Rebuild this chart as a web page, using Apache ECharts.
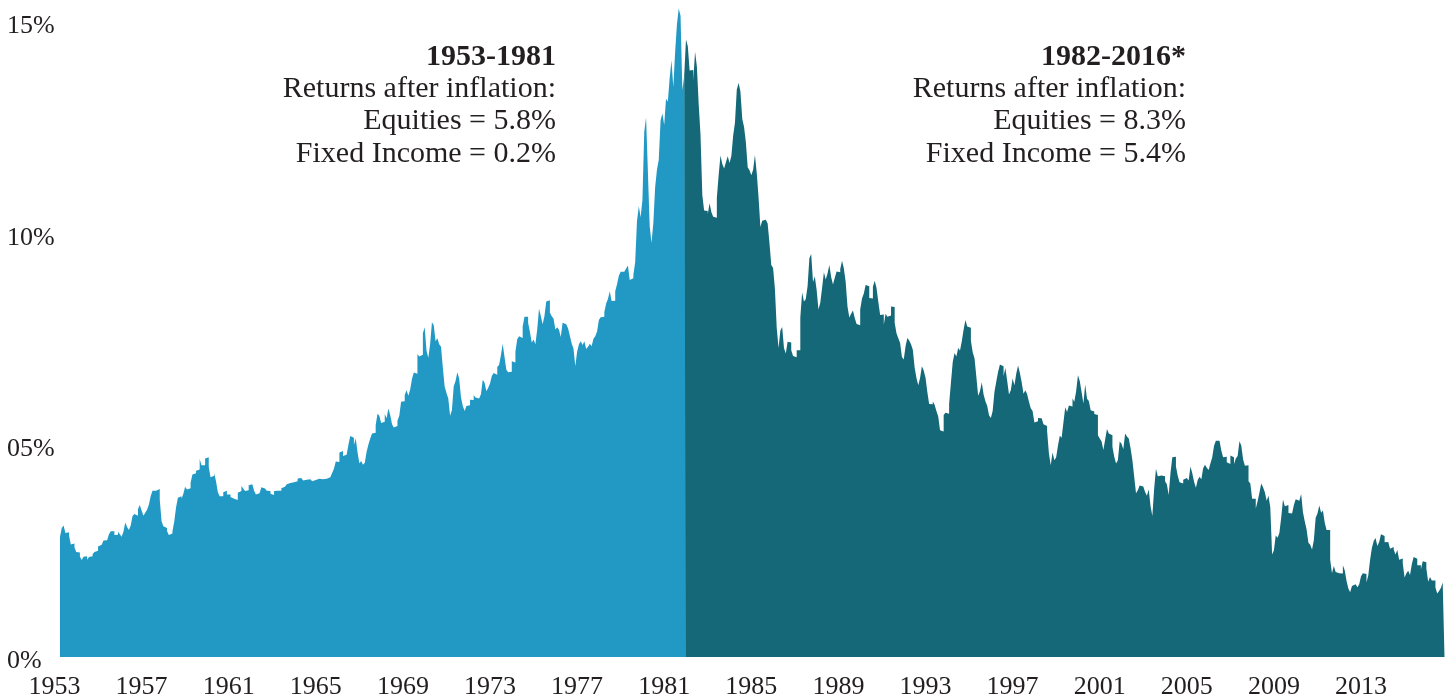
<!DOCTYPE html>
<html>
<head>
<meta charset="utf-8">
<title>10-year yield 1953-2016</title>
<script src="https://cdn.jsdelivr.net/npm/echarts@6/dist/echarts.min.js"></script>
<style>
html,body{margin:0;padding:0;background:#fff;}
#chart{width:1453px;height:700px;}
</style>
</head>
<body>
<div id="chart"></div>
<script>
// monthly yields, first series starts April 1953
var startYear = 1953, startMonth = 4;
var yields1953_1981 = [
  2.83,3.05,3.11,2.93,2.95,2.87,2.66,2.68,2.59,
  2.48,2.47,2.37,2.29,2.37,2.38,2.30,2.36,2.38,2.43,2.48,2.51,
  2.61,2.65,2.68,2.75,2.76,2.78,2.90,2.97,2.97,2.88,2.89,2.96,
  2.90,2.84,2.96,3.18,3.07,3.00,3.11,3.33,3.38,3.34,3.49,3.59,
  3.46,3.34,3.41,3.48,3.60,3.80,3.93,3.93,3.92,3.97,3.72,3.21,
  3.09,3.05,2.98,2.88,2.92,2.97,3.20,3.54,3.76,3.80,3.74,3.86,
  4.02,3.96,3.99,4.12,4.31,4.34,4.40,4.43,4.68,4.53,4.53,4.69,
  4.72,4.49,4.25,4.28,4.35,4.15,3.90,3.80,3.80,3.89,3.93,3.84,
  3.84,3.78,3.74,3.78,3.71,3.88,3.92,4.04,3.98,3.92,3.94,4.06,
  4.08,4.04,3.93,3.84,3.87,3.91,4.01,3.98,3.98,3.93,3.92,3.86,
  3.83,3.92,3.93,3.97,3.93,3.99,4.02,4.00,4.08,4.11,4.12,4.13,
  4.17,4.15,4.22,4.23,4.20,4.17,4.19,4.19,4.20,4.19,4.15,4.18,
  4.19,4.21,4.21,4.20,4.21,4.21,4.20,4.25,4.29,4.35,4.45,4.62,
  4.61,4.83,4.87,4.75,4.78,4.81,5.02,5.22,5.18,5.01,5.16,4.84,
  4.58,4.63,4.54,4.59,4.85,5.02,5.16,5.28,5.30,5.48,5.75,5.70,
  5.53,5.56,5.74,5.64,5.87,5.72,5.50,5.42,5.46,5.58,5.70,6.03,
  6.04,6.19,6.30,6.17,6.32,6.57,6.72,6.69,7.16,7.10,7.14,7.65,
  7.79,7.24,7.07,7.39,7.91,7.84,7.46,7.53,7.39,7.33,6.84,6.39,
  6.24,6.11,5.70,5.83,6.39,6.52,6.73,6.58,6.14,5.93,5.81,5.93,
  5.95,6.08,6.07,6.19,6.13,6.11,6.11,6.21,6.55,6.48,6.28,6.36,
  6.46,6.64,6.71,6.67,6.85,6.90,7.13,7.40,7.09,6.79,6.73,6.74,
  6.99,6.96,7.21,7.51,7.58,7.54,7.81,8.04,8.04,7.90,7.68,7.43,
  7.50,7.39,7.73,8.23,8.06,7.86,8.06,8.40,8.43,8.14,8.05,8.00,
  7.74,7.79,7.73,7.56,7.90,7.86,7.83,7.77,7.59,7.41,7.29,6.87,
  7.21,7.39,7.46,7.37,7.46,7.28,7.33,7.40,7.34,7.52,7.58,7.69,
  7.96,8.03,8.04,8.15,8.35,8.46,8.64,8.41,8.42,8.64,8.81,9.01,
  9.10,9.10,9.12,9.18,9.25,8.91,8.95,9.03,9.33,10.30,10.65,10.39,
  10.80,12.41,12.75,11.47,10.18,9.78,10.25,11.10,11.51,11.75,12.68,12.84,
  12.57,13.19,13.12,13.68,14.10,13.47,14.28,14.94,15.32,15.15,13.39,13.72
];
// second series starts January 1982
var yields1982_2016 = [
  14.59,14.43,13.86,13.87,13.62,14.30,13.95,13.06,12.34,10.91,10.55,10.54,
  10.46,10.72,10.51,10.40,10.38,10.85,11.38,11.85,11.65,11.54,11.69,11.83,
  11.67,11.84,12.32,12.63,13.41,13.56,13.36,12.72,12.52,12.16,11.57,11.50,
  11.38,11.51,11.86,11.43,10.85,10.16,10.31,10.33,10.37,10.24,9.78,9.26,
  9.19,8.70,7.78,7.30,7.71,7.80,7.30,7.17,7.45,7.43,7.25,7.11,
  7.08,7.25,7.25,8.02,8.61,8.40,8.45,8.76,9.42,9.52,8.86,8.99,
  8.67,8.21,8.37,8.72,9.09,8.92,9.06,9.26,8.98,8.80,8.96,9.11,
  9.09,9.17,9.36,9.18,8.86,8.28,8.02,8.11,8.19,8.01,7.87,7.84,
  8.21,8.47,8.59,8.79,8.76,8.48,8.47,8.75,8.89,8.72,8.39,8.08,
  8.09,7.85,8.11,8.04,8.07,8.28,8.27,7.90,7.65,7.53,7.42,7.09,
  7.03,7.34,7.54,7.48,7.39,7.26,6.84,6.59,6.42,6.59,6.87,6.77,
  6.60,6.26,5.98,5.97,6.04,5.96,5.81,5.68,5.36,5.33,5.72,5.77,
  5.75,5.97,6.48,6.97,7.18,7.10,7.30,7.24,7.46,7.74,7.96,7.81,
  7.78,7.47,7.20,7.06,6.63,6.17,6.28,6.49,6.20,6.04,5.93,5.71,
  5.65,5.81,6.27,6.51,6.74,6.91,6.87,6.64,6.83,6.53,6.20,6.30,
  6.58,6.42,6.69,6.89,6.71,6.49,6.22,6.30,6.21,6.03,5.88,5.81,
  5.54,5.57,5.65,5.64,5.65,5.50,5.46,5.34,4.81,4.53,4.83,4.65,
  4.72,5.00,5.23,5.18,5.54,5.90,5.79,5.94,5.92,6.11,6.03,6.28,
  6.66,6.52,6.26,5.99,6.44,6.10,6.05,5.83,5.80,5.74,5.72,5.24,
  5.16,5.10,4.89,5.14,5.39,5.28,5.24,4.97,4.73,4.57,4.65,5.09,
  5.04,4.91,5.28,5.21,5.16,4.93,4.65,4.26,3.87,3.94,4.05,4.03,
  4.05,3.90,3.81,3.96,3.57,3.33,3.98,4.45,4.27,4.29,4.30,4.27,
  4.15,4.08,3.83,4.35,4.72,4.73,4.50,4.28,4.13,4.10,4.19,4.23,
  4.22,4.17,4.50,4.34,4.14,4.00,4.18,4.26,4.20,4.46,4.54,4.47,
  4.42,4.57,4.72,4.99,5.11,5.11,5.09,4.88,4.72,4.73,4.60,4.56,
  4.76,4.72,4.56,4.69,4.75,5.10,5.00,4.67,4.52,4.53,4.15,4.10,
  3.74,3.74,3.51,3.68,3.88,4.10,4.01,3.89,3.69,3.81,3.53,2.42,
  2.52,2.87,2.82,2.93,3.29,3.72,3.56,3.59,3.40,3.39,3.40,3.59,
  3.73,3.69,3.73,3.85,3.42,3.20,3.01,2.70,2.65,2.54,2.76,3.29,
  3.39,3.58,3.41,3.46,3.17,3.00,3.00,2.30,1.98,2.15,2.01,1.98,
  1.97,1.97,2.17,2.05,1.80,1.62,1.53,1.68,1.72,1.75,1.65,1.72,
  1.91,1.98,1.96,1.76,1.93,2.30,2.58,2.74,2.81,2.62,2.72,2.90,
  2.86,2.71,2.72,2.71,2.56,2.60,2.54,2.42,2.53,2.30,2.33,2.21,
  1.88,1.98,2.04,1.94,2.20,2.36,2.32,2.17,2.17,2.07,2.26,2.24,
  2.09,1.78,1.89,1.81,1.81,1.64,1.50,1.56,1.63,1.76
];
var yTicks = [0, 5, 10, 15];
var yearStep = 4;

var leftNote = ['1953-1981', 'Returns after inflation:', 'Equities = 5.8%', 'Fixed Income = 0.2%'];
var rightNote = ['1982-2016*', 'Returns after inflation:', 'Equities = 8.3%', 'Fixed Income = 5.4%'];

var lightBlue = '#2199c4';
var darkTeal = '#156878';
var ink = '#231f20';
var serif = '"Liberation Serif", "DejaVu Serif", serif';

// month -> fractional year at the month's start, plus a closing point
// so the last month of each part keeps its full width
function toPoints(values, year, month) {
  var pts = [];
  for (var i = 0; i < values.length; i++) {
    pts.push([year + (month - 1 + i) / 12, values[i]]);
  }
  pts.push([year + (month - 1 + values.length) / 12, values[values.length - 1]]);
  return pts;
}

var part1 = toPoints(yields1953_1981, startYear, startMonth);
var part2 = toPoints(yields1982_2016, 1982, 1);
// dark fill also runs under Dec 1981 (hidden by the light fill) so no white seam shows at the join
var part2Under = [[1982 - 1 / 12, yields1953_1981[yields1953_1981.length - 1]]].concat(part2);
var endYear = part2[part2.length - 1][0];

function noteBlock(lines, right) {
  var out = [];
  for (var i = 0; i < lines.length; i++) {
    out.push({
      type: 'text',
      right: right,
      top: 42 + i * 32.3,
      style: {
        text: lines[i],
        fill: ink,
        font: (i === 0 ? 'bold ' : '') + '30px ' + serif,
        textAlign: 'right'
      }
    });
  }
  return out;
}

var myChart = echarts.init(document.getElementById('chart'));
var option = {
  animation: false,
  backgroundColor: '#fff',
  grid: { left: 54.5, right: 8.5, top: 1, bottom: 43 },
  xAxis: {
    type: 'value',
    min: startYear,
    max: endYear,
    interval: yearStep,
    splitLine: { show: false },
    axisLine: { show: false },
    axisTick: { show: false },
    axisLabel: {
      color: ink,
      fontFamily: serif,
      fontSize: 26,
      margin: 17,
      showMaxLabel: false,
      formatter: function (v) {
        var d = v - startYear;
        return (Math.abs(d - Math.round(d)) < 1e-6 && Math.round(d) % yearStep === 0) ? String(Math.round(v)) : '';
      }
    }
  },
  yAxis: {
    type: 'value',
    min: 0,
    max: 15.5,
    interval: 5,
    splitLine: { show: false },
    axisLine: { show: false },
    axisTick: { show: false },
    axisLabel: {
      color: ink,
      fontFamily: serif,
      fontSize: 26,
      align: 'left',
      verticalAlign: 'top',
      lineHeight: 8,
      margin: 47.5,
      showMaxLabel: false,
      formatter: function (v) {
        if (yTicks.indexOf(v) < 0) return '';
        if (v === 0) return '0%';
        return (v < 10 ? '0' + v : String(v)) + '%';
      }
    }
  },
  series: [
    {
      name: '1982-2016',
      type: 'line',
      step: 'end',
      data: part2Under,
      symbol: 'none',
      silent: true,
      z: 1,
      lineStyle: { width: 0 },
      itemStyle: { color: darkTeal },
      areaStyle: { color: darkTeal, opacity: 1 }
    },
    {
      name: '1953-1981',
      type: 'line',
      step: 'end',
      data: part1,
      symbol: 'none',
      silent: true,
      z: 2,
      lineStyle: { width: 0 },
      itemStyle: { color: lightBlue },
      areaStyle: { color: lightBlue, opacity: 1 }
    }
  ],
  graphic: noteBlock(leftNote, 1453 - 556).concat(noteBlock(rightNote, 1453 - 1186))
};
myChart.setOption(option);
</script>
</body>
</html>
